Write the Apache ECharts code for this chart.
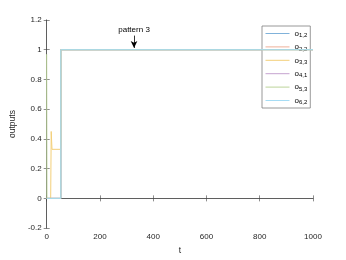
<!DOCTYPE html>
<html><head><meta charset="utf-8">
<script src="https://cdn.jsdelivr.net/npm/echarts@6/dist/echarts.min.js"></script>
<style>html,body{margin:0;padding:0;background:#fff}#c{width:346px;height:260px}</style>
</head><body><div id="c"></div>
<script>
// data
var seriesNames = ['o1,2','o2,2','o3,3','o4,1','o5,3','o6,2'];
var seriesColors = ['#80b2da','#eeb09a','#f3cf78','#c6a3cf','#bcd49a','#a6dcf4'];
var o12 = [[0,0],[53,0],[53,1],[1000,1]];
var o22 = [[0,0],[53,0],[53,1],[1000,1]];
var o33 = [[0,0],[15,0],[17,0.45],[20,0.33],[52,0.33],[53,0.38],[53,1],[1000,1]];
var o41 = [[0,0],[53,0],[53,1],[1000,1]];
var o53 = [[0,0.97],[1,0],[53,0],[53,1],[1000,1]];
var o62 = [[0,0],[53,0],[53,1],[1000,1]];
var seriesData = [o12,o22,o33,o41,o53,o62];
var xTicks = [0,200,400,600,800,1000];
var yTicks = [-0.2,0,0.2,0.4,0.6,0.8,1,1.2];
var annotText = 'pattern 3';
var annotX = 328, annotYStart = 1.095, annotYEnd = 1.012;

var font = 'Liberation Sans';
var axisColor = '#404040';
var series = seriesNames.map(function(n,i){
  return {name:n,type:'line',data:seriesData[i],symbol:'none',showSymbol:false,
    lineStyle:{width:1,color:seriesColors[i]},itemStyle:{color:seriesColors[i]},
    animation:false,z:2+i};
});
series.push({name:'annot',type:'line',data:[],symbol:'none',animation:false,
  markLine:{silent:true,animation:false,symbol:['none','arrow'],symbolSize:[5,7],
    lineStyle:{color:'#000',width:0.8,type:'solid'},
    label:{show:true,position:'start',formatter:annotText,color:'#000',fontFamily:font,fontSize:8,distance:2},
    data:[[{coord:[annotX,annotYStart]},{coord:[annotX,annotYEnd]}]]}});

function axis(extra){
  return Object.assign({
    axisLine:{show:true,lineStyle:{color:axisColor,width:0.6}},
    axisTick:{show:true,inside:true,length:3,lineStyle:{color:axisColor,width:0.6}},
    splitLine:{show:false}
  },extra);
}
var lbl = {color:'#262626',fontFamily:font,fontSize:8,margin:5};
var chart = echarts.init(document.getElementById('c'),null,{renderer:'canvas'});
chart.setOption({
  animation:false,
  backgroundColor:'#fff',
  grid:{left:45,right:33,top:20,bottom:29,containLabel:false},
  xAxis:[axis({type:'value',min:0,max:1000,interval:200,name:'t',nameLocation:'middle',nameGap:15,
      nameTextStyle:{color:'#262626',fontFamily:font,fontSize:8.5},
      axisLabel:Object.assign({formatter:function(v){return String(v);}},lbl)}),
    axis({type:'value',min:0,max:1000,interval:200,position:'top',axisLabel:{show:false}})],
  yAxis:[axis({type:'value',min:-0.2,max:1.2,interval:0.2,name:'outputs',nameLocation:'middle',nameGap:23,
      nameTextStyle:{color:'#262626',fontFamily:font,fontSize:8.5},
      axisLabel:Object.assign({formatter:function(v){return String(Math.round(v*10)/10);}},lbl)}),
    axis({type:'value',min:-0.2,max:1.2,interval:0.2,position:'right',axisLabel:{show:false}})],
  legend:{data:seriesNames,orient:'vertical',left:262,top:26,
    backgroundColor:'#fff',borderColor:'#7f7f7f',borderWidth:0.8,padding:[2,3,2,3],
    itemWidth:24,itemHeight:8,itemGap:2.4,
    itemStyle:{opacity:0},lineStyle:{width:1},
    textStyle:{fontFamily:font,fontSize:8,color:'#000',lineHeight:11,
      rich:{b:{fontFamily:font,fontSize:8,color:'#000',lineHeight:11},s:{fontFamily:font,fontSize:6,color:'#000',lineHeight:11,padding:[4,0,0,0]}}},
    formatter:function(n){return '{b|o}{s|'+n.slice(1)+'}';}
  },
  series:series
});
</script></body></html>
